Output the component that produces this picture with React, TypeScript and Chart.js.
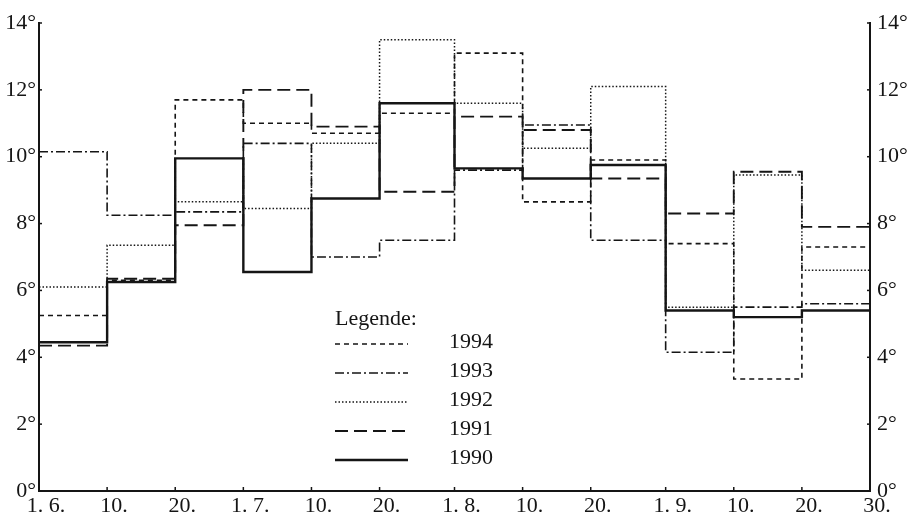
import { useEffect, useRef } from "react";
import { Chart, registerables } from "chart.js";

Chart.register(...registerables);

// Day offsets (from 1 June) of the dekad boundaries shown on the x axis
const dekadDays = [0, 10, 20, 30, 40, 50, 61, 71, 81, 92, 102, 112, 122];
const tickLabels = ["1. 6.", "10.", "20.", "1. 7.", "10.", "20.", "1. 8.", "10.", "20.", "1. 9.", "10.", "20.", "30."];
const yTickValues = [0, 2, 4, 6, 8, 10, 12, 14];

const years = ["1994", "1993", "1992", "1991", "1990"];
const values1994 = [5.25, 6.3, 11.7, 11.0, 10.7, 11.3, 13.1, 8.65, 9.9, 7.4, 3.35, 7.3];
const values1993 = [10.15, 8.25, 8.35, 10.4, 7.0, 7.5, 9.6, 10.95, 7.5, 4.15, 5.5, 5.6];
const values1992 = [6.1, 7.35, 8.65, 8.45, 10.4, 13.5, 11.6, 10.25, 12.1, 5.5, 9.45, 6.6];
const values1991 = [4.35, 6.35, 7.95, 12.0, 10.9, 8.95, 11.2, 10.8, 9.35, 8.3, 9.55, 7.9];
const values1990 = [4.45, 6.25, 9.95, 6.55, 8.75, 11.6, 9.65, 9.35, 9.75, 5.4, 5.2, 5.4];

const seriesValues = [values1994, values1993, values1992, values1991, values1990];
const seriesDash = [[5, 4], [9, 3, 2, 3], [1.5, 2], [13, 6], []];
const seriesWidth = [1.6, 1.6, 1.5, 1.9, 2.4];

const INK = "#151515";
const FONT = "'Liberation Serif', 'Times New Roman', serif";

function stepPoints(vals: number[]) {
  const pts = vals.map((v, i) => ({ x: dekadDays[i], y: v }));
  pts.push({ x: dekadDays[dekadDays.length - 1], y: vals[vals.length - 1] });
  return pts;
}

const innerTicks = {
  id: "innerTicks",
  afterDraw(chart: any) {
    const { ctx, chartArea } = chart;
    ctx.save();
    ctx.strokeStyle = INK;
    ctx.lineWidth = 1.5;
    const xs = chart.scales.x;
    xs.ticks.forEach((t: any) => {
      const px = xs.getPixelForValue(t.value);
      ctx.beginPath();
      ctx.moveTo(px, chartArea.bottom);
      ctx.lineTo(px, chartArea.bottom - 4);
      ctx.stroke();
    });
    const yl = chart.scales.y;
    const yr = chart.scales.y2;
    yl.ticks.forEach((t: any) => {
      const py = yl.getPixelForValue(t.value);
      ctx.beginPath();
      ctx.moveTo(chartArea.left, py);
      ctx.lineTo(chartArea.left + 3, py);
      ctx.stroke();
    });
    yr.ticks.forEach((t: any) => {
      const py = yr.getPixelForValue(t.value);
      ctx.beginPath();
      ctx.moveTo(chartArea.right, py);
      ctx.lineTo(chartArea.right - 3, py);
      ctx.stroke();
    });
    ctx.restore();
  },
};

const customLegend = {
  id: "customLegend",
  afterDraw(chart: any) {
    const { ctx } = chart;
    ctx.save();
    ctx.fillStyle = INK;
    ctx.strokeStyle = INK;
    ctx.font = `22px ${FONT}`;
    ctx.textBaseline = "middle";
    ctx.textAlign = "left";
    const x0 = 335;
    ctx.fillText("Legende:", x0, 319);
    chart.data.datasets.forEach((ds: any, i: number) => {
      const rowY = 344 + i * 29;
      ctx.beginPath();
      ctx.setLineDash(ds.borderDash || []);
      ctx.lineWidth = ds.borderWidth;
      ctx.moveTo(x0, rowY);
      ctx.lineTo(x0 + 73, rowY);
      ctx.stroke();
      ctx.setLineDash([]);
      ctx.fillText(ds.label, 449, rowY - 1.5);
    });
    ctx.restore();
  },
};

export default function App() {
  const ref = useRef<HTMLCanvasElement | null>(null);

  useEffect(() => {
    if (!ref.current) return;
    const tickFont = { family: FONT, size: 22 };
    const chart = new Chart(ref.current, {
      type: "line",
      data: {
        datasets: years.map((yr, i) => ({
          label: yr,
          data: stepPoints(seriesValues[i]),
          borderColor: INK,
          borderWidth: seriesWidth[i],
          borderDash: seriesDash[i],
          pointRadius: 0,
          fill: false,
          stepped: "before" as const,
          tension: 0,
        })),
      },
      options: {
        responsive: false,
        animation: false,
        layout: { padding: { top: 23, left: 0, right: 0, bottom: 0 } },
        plugins: { legend: { display: false }, tooltip: { enabled: false } },
        scales: {
          x: {
            type: "linear",
            min: dekadDays[0],
            max: dekadDays[dekadDays.length - 1],
            afterBuildTicks: (scale: any) => {
              scale.ticks = dekadDays.map((v) => ({ value: v }));
            },
            afterFit: (scale: any) => {
              scale.height = 35;
            },
            grid: { display: false, drawTicks: false },
            border: { display: true, color: INK, width: 2 },
            ticks: {
              autoSkip: false,
              maxRotation: 0,
              padding: 2,
              labelOffset: 7,
              color: INK,
              font: tickFont,
              callback: (_v: any, i: number) => tickLabels[i],
            },
          },
          y: {
            type: "linear",
            position: "left",
            min: 0,
            max: 14,
            afterBuildTicks: (scale: any) => {
              scale.ticks = yTickValues.map((v) => ({ value: v }));
            },
            afterFit: (scale: any) => {
              scale.width = 39;
            },
            grid: { display: false, drawTicks: false },
            border: { display: true, color: INK, width: 2 },
            ticks: {
              padding: 3,
              color: INK,
              font: tickFont,
              callback: (v: any) => `${v}°`,
            },
          },
          y2: {
            type: "linear",
            position: "right",
            min: 0,
            max: 14,
            afterBuildTicks: (scale: any) => {
              scale.ticks = yTickValues.map((v) => ({ value: v }));
            },
            afterFit: (scale: any) => {
              scale.width = 48;
            },
            grid: { display: false, drawTicks: false },
            border: { display: true, color: INK, width: 2 },
            ticks: {
              padding: 7,
              color: INK,
              font: tickFont,
              callback: (v: any) => `${v}°`,
            },
          },
        },
      },
      plugins: [innerTicks, customLegend],
    });
    return () => chart.destroy();
  }, []);

  return (
    <canvas
      ref={ref}
      width={918}
      height={526}
      style={{ position: "absolute", left: 0, top: 0, width: 918, height: 526 }}
    />
  );
}
